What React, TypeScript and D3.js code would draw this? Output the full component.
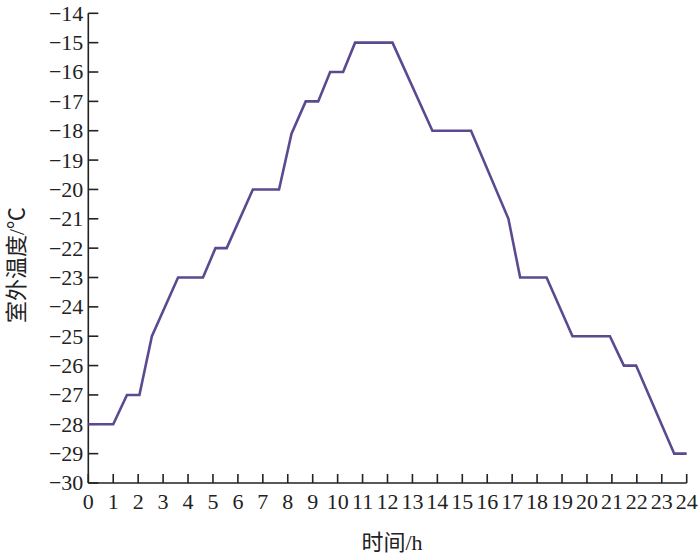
import React from "react";
import * as d3 from "d3";

const hours = [0, 1, 1.55, 2.05, 2.55, 3.6, 4.6, 5.1, 5.55, 6.6, 7.65, 8.15, 8.72, 9.22, 9.7, 10.22, 10.7, 12.2, 13.8, 15.35, 16.85, 17.32, 18.38, 19.42, 20.92, 21.48, 21.97, 23.5, 24];
const temps = [-28, -28, -27, -27, -25, -23, -23, -22, -22, -20, -20, -18.1, -17, -17, -16, -16, -15, -15, -18, -18, -21, -23, -23, -25, -25, -26, -26, -29, -29];
const xTicks = d3.range(0, 25, 1);
const yTicks = d3.range(-30, -13, 1);
const xTitle = "时间/h";
const yTitle = "室外温度/℃";

const W = 700;
const H = 558;
const left = 88.3;
const right = 686.7;
const top = 13.3;
const bottom = 483;
const font = "'Liberation Serif', 'Times New Roman', 'Noto Sans CJK SC', serif";

export default function App() {
  const x = d3.scaleLinear().domain([0, 24]).range([left, right]);
  const y = d3.scaleLinear().domain([-30, -14]).range([bottom, top]);
  const pts: [number, number][] = hours.map((h, i) => [h, temps[i]]);
  const line = d3
    .line<[number, number]>()
    .x((d) => x(d[0]))
    .y((d) => y(d[1]));
  const fmt = (v: number) => (v < 0 ? "\u2212" + Math.abs(v) : String(v));
  return (
    <svg
      width={W}
      height={H}
      style={{ position: "absolute", left: 0, top: 0, background: "#fff" }}
      fontFamily={font}
    >
      <rect x={0} y={0} width={W} height={H} fill="#fff" />
      {/* axes */}
      <line x1={left} x2={left} y1={top} y2={bottom} stroke="#222" strokeWidth={1.6} />
      <line x1={left} x2={right} y1={bottom} y2={bottom} stroke="#222" strokeWidth={1.6} />
      {yTicks.map((t) => (
        <g key={"y" + t}>
          <line x1={left} x2={left + 10} y1={y(t)} y2={y(t)} stroke="#222" strokeWidth={1.6} />
          <text x={left - 5} y={y(t)} dy="0.34em" textAnchor="end" fontSize={22} fill="#222">
            {fmt(t)}
          </text>
        </g>
      ))}
      {xTicks.map((t) => (
        <g key={"x" + t}>
          <line x1={x(t)} x2={x(t)} y1={bottom} y2={bottom - 9} stroke="#222" strokeWidth={1.6} />
          <text x={x(t)} y={509} textAnchor="middle" fontSize={22} fill="#222">
            {fmt(t)}
          </text>
        </g>
      ))}
      <path d={line(pts) || ""} fill="none" stroke="#5b4a90" strokeWidth={2.6} strokeLinejoin="miter" />
      <text x={392} y={550} textAnchor="middle" fontSize={22} fill="#222">
        {xTitle}
      </text>
      <text
        transform={`translate(24, 265) rotate(-90)`}
        textAnchor="middle"
        fontSize={22}
        fill="#222"
      >
        {yTitle}
      </text>
    </svg>
  );
}
